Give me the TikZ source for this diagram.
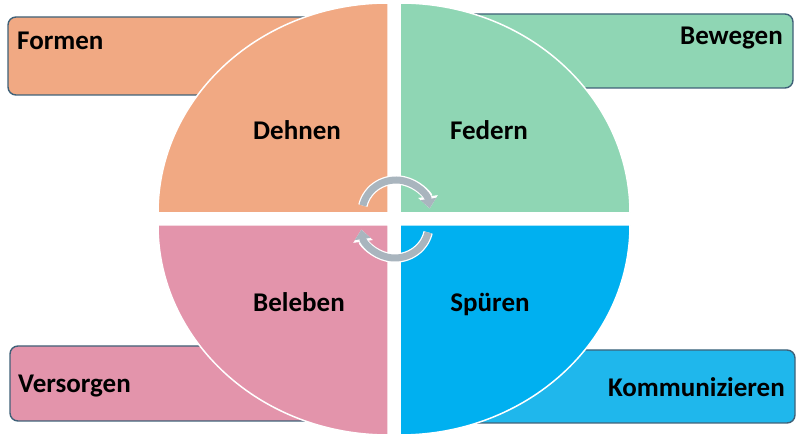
\documentclass[tikz,border=0pt]{standalone}
\usepackage{fontspec}
\setmainfont{Carlito}
\usepackage{tikz}
\usetikzlibrary{arrows.meta}
\definecolor{dehnencol}{HTML}{F1A983}
\definecolor{federncol}{HTML}{8FD6B4}
\definecolor{belebencol}{HTML}{E394AB}
\definecolor{spuerencol}{HTML}{00B0F0}
\definecolor{kommcol}{HTML}{1FB7EC}
\definecolor{rimcol}{HTML}{3F6178}
\definecolor{cyclecol}{HTML}{A9B5BE}

\begin{document}
\begin{tikzpicture}[x=1pt,y=1pt,
        box node/.style={rectangle,rounded corners=8pt,draw=rimcol,line width=1.4pt,inner sep=0pt},
        quarter/.style={draw=white,line width=1.5pt},
        word/.style={inner sep=0pt,font=\fontsize{27}{30}\selectfont\bfseries},
        cycle rim/.style={white,line width=9.5pt,-{Triangle[width=19pt,length=12pt]}},
        cycle arrow/.style={cyclecol,line width=7pt,-{Triangle[width=15.5pt,length=9.5pt]}}]
    \useasboundingbox (0,0) rectangle (800,444);
    % boxes behind the circle
    \node[box node, fill=dehnencol, minimum width=322pt, minimum height=78pt] (formenbox) at (169,388) {};
    \node[box node, fill=federncol, minimum width=343pt, minimum height=74pt] (bewegenbox) at (621.5,393) {};
    \node[box node, fill=belebencol, minimum width=330pt, minimum height=75pt] (versorgenbox) at (175,60.5) {};
    \node[box node, fill=kommcol, minimum width=345pt, minimum height=73pt] (kommbox) at (622.5,57.5) {};
    % the four quarters
    \filldraw[quarter, fill=dehnencol] (388,231) -- (158,231) arc (180:90:230 and 210) -- cycle;
    \filldraw[quarter, fill=federncol] (400,231) -- (400,441) arc (90:0:230 and 210) -- cycle;
    \filldraw[quarter, fill=belebencol] (388,219) -- (388,9) arc (270:180:230 and 210) -- cycle;
    \filldraw[quarter, fill=spuerencol] (400,219) -- (630,219) arc (0:-90:230 and 210) -- cycle;
    % labels
    \node[word, anchor=base west] (formen) at (17,394) {Formen};
    \node[word, anchor=base east] (bewegen) at (783,399) {Bewegen};
    \node[word, anchor=base west] (versorgen) at (18,51) {Versorgen};
    \node[word, anchor=base east] (komm) at (785,47) {Kommunizieren};
    \node[word, anchor=base] (dehnen) at (297,304) {Dehnen};
    \node[word, anchor=base] (federn) at (489,304) {Federn};
    \node[word, anchor=base] (beleben) at (299,132) {Beleben};
    \node[word, anchor=base] (spueren) at (490,132) {Spüren};
    % the two turning arrows
    \coordinate (tophub) at (396,231);
    \coordinate (bothub) at (395,219);
    \draw[cycle rim] ([shift={(167:34 and 33)}]tophub) arc (167:8:34 and 33);
    \draw[cycle arrow] ([shift={(167:34 and 33)}]tophub) arc (167:8:34 and 33);
    \draw[cycle rim] ([shift={(-13:34 and 33)}]bothub) arc (-13:-172:34 and 33);
    \draw[cycle arrow] ([shift={(-13:34 and 33)}]bothub) arc (-13:-172:34 and 33);
\end{tikzpicture}
\end{document}
